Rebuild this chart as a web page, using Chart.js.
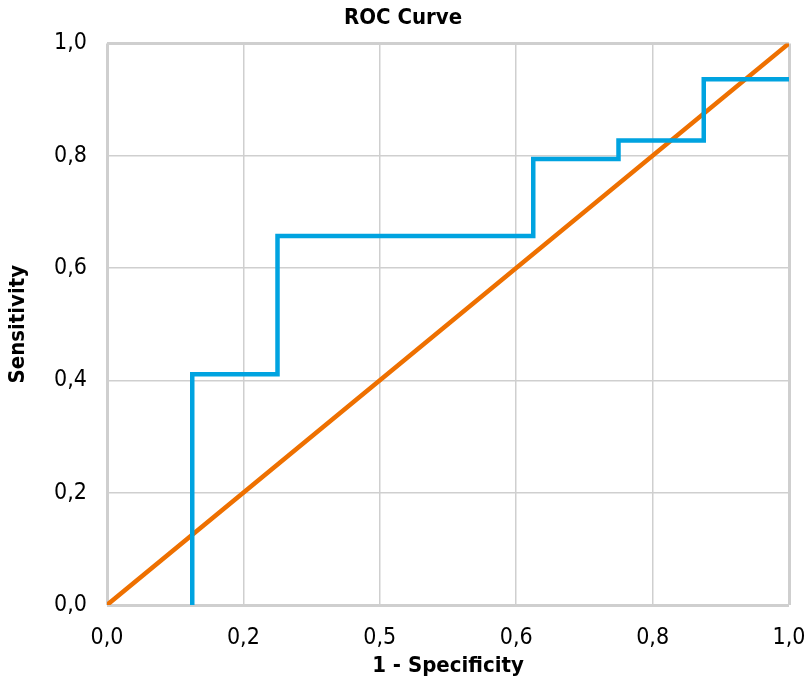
<!DOCTYPE html>
<html>
<head>
<meta charset="utf-8">
<title>ROC Curve</title>
<script src="https://cdn.jsdelivr.net/npm/chart.js@4.4.1/dist/chart.umd.min.js"></script>
<style>
    html, body { margin: 0; padding: 0; background: #fff; overflow: hidden; }
    #wrap { position: relative; width: 806px; height: 679px; }
    #roc { display: block; }
</style>
</head>
<body>
<div id="wrap"><canvas id="roc"></canvas></div>
<script>
// ROC curve corner points (1 - specificity, sensitivity)
const rocFpr = [0.125, 0.125, 0.25, 0.25, 0.625, 0.625, 0.75, 0.75, 0.875, 0.875, 1.0];
const rocTpr = [0.0, 0.411, 0.411, 0.657, 0.657, 0.794, 0.794, 0.827, 0.827, 0.936, 0.936];

// reference (chance) line
const refFpr = [0.0, 1.0];
const refTpr = [0.0, 1.0];

// tick labels as printed in the picture
const xTickValues = [0.0, 0.2, 0.4, 0.6, 0.8, 1.0];
const xTickLabels = ['0,0', '0,2', '0,5', '0,6', '0,8', '1,0'];
const yTickValues = [0.0, 0.2, 0.4, 0.6, 0.8, 1.0];
const yTickLabels = ['0,0', '0,2', '0,4', '0,6', '0,8', '1,0'];

const FONT = '"Liberation Sans Narrow", "DejaVu Sans Condensed", "Liberation Sans", sans-serif';

function toPoints(xs, ys) {
    return xs.map((x, i) => ({ x: x, y: ys[i] }));
}

// frame lines are thicker than the inner grid
function gridWidth(ctx) {
    const n = ctx.scale.ticks.length;
    return (ctx.index === 0 || ctx.index === n - 1) ? 3 : 1.5;
}

const ctx = document.getElementById('roc').getContext('2d');

new Chart(ctx, {
    type: 'line',
    data: {
        datasets: [
            {
                label: 'ROC',
                data: toPoints(rocFpr, rocTpr),
                borderColor: '#00a3e0',
                borderWidth: 4.5,
                borderCapStyle: 'round',
                borderJoinStyle: 'miter',
                pointRadius: 0,
                tension: 0,
                fill: false
            },
            {
                label: 'Reference',
                data: toPoints(refFpr, refTpr),
                borderColor: '#ee7000',
                borderWidth: 4.5,
                borderCapStyle: 'round',
                pointRadius: 0,
                tension: 0,
                fill: false
            }
        ]
    },
    options: {
        responsive: true,
        maintainAspectRatio: false,
        animation: false,
        layout: {
            padding: { left: 0, right: 0, top: 3, bottom: 0 }
        },
        plugins: {
            legend: { display: false },
            tooltip: { enabled: false },
            title: {
                display: true,
                text: 'ROC Curve',
                color: '#000',
                font: { family: FONT, size: 22, weight: 'bold' },
                padding: { top: 2, bottom: 12 }
            }
        },
        scales: {
            x: {
                type: 'linear',
                min: 0,
                max: 1,
                afterBuildTicks: axis => {
                    axis.ticks = xTickValues.map(v => ({ value: v }));
                },
                afterFit: axis => {
                    axis.height = 74;
                    axis.paddingRight = 17;
                },
                ticks: {
                    color: '#000',
                    font: { family: FONT, size: 23 },
                    padding: 19,
                    maxRotation: 0,
                    callback: (value, index) => xTickLabels[index]
                },
                grid: {
                    color: '#cfcfcf',
                    lineWidth: gridWidth,
                    drawTicks: false
                },
                border: { display: false },
                title: {
                    display: true,
                    text: '1 - Specificity',
                    color: '#000',
                    font: { family: FONT, size: 22, weight: 'bold' },
                    padding: { top: 2, bottom: 0 }
                }
            },
            y: {
                type: 'linear',
                min: 0,
                max: 1,
                afterBuildTicks: axis => {
                    axis.ticks = yTickValues.map(v => ({ value: v }));
                },
                afterFit: axis => {
                    axis.width = 107;
                },
                ticks: {
                    color: '#000',
                    font: { family: FONT, size: 23 },
                    padding: 20,
                    callback: (value, index) => yTickLabels[index]
                },
                grid: {
                    color: '#cfcfcf',
                    lineWidth: gridWidth,
                    drawTicks: false
                },
                border: { display: false },
                title: {
                    display: true,
                    text: 'Sensitivity',
                    color: '#000',
                    font: { family: FONT, size: 22, weight: 'bold' },
                    padding: { top: 5, bottom: 0 }
                }
            }
        }
    }
});
</script>
</body>
</html>
